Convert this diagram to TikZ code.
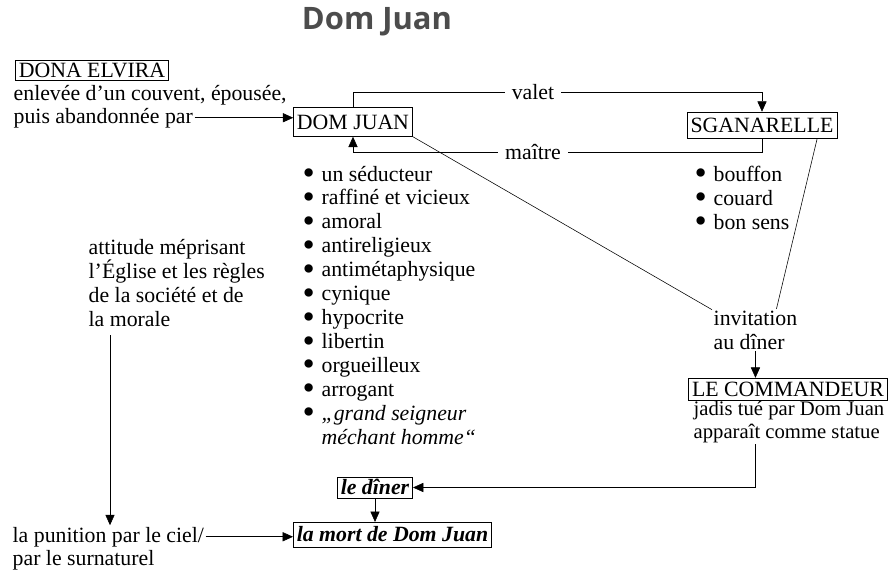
\documentclass[tikz,border=0pt]{standalone}
\usepackage{fontspec}
\setmainfont{Liberation Serif}
\newfontfamily\titlefont{Open Sans}
\usetikzlibrary{arrows.meta}
\tikzset{>={Triangle[length=2.6mm,width=2.3mm]}, line width=0.7pt}
\definecolor{titlegray}{gray}{0.3}
\newcommand{\bodyfont}{\fontsize{15.5}{17}\selectfont}
\newcommand{\bul}{\makebox[0.87em][l]{\raisebox{-0.17em}{\scalebox{1.6}{\textbullet}}}}

\begin{document}
\begin{tikzpicture}[x=0.025cm,y=-0.025cm,
    every node/.style={font=\bodyfont},
    box/.style={draw,inner xsep=2.5pt,inner ysep=1.5pt,text height=10.6pt,text depth=0.4pt},
    txt/.style={inner sep=1pt,align=left,anchor=base west},
    lbl/.style={fill=white,inner xsep=5pt,inner ysep=1pt}]
  \useasboundingbox (0,0) rectangle (888,572);

  % title
  \node[font=\titlefont\bfseries\fontsize{22}{26}\selectfont,text=titlegray]
    (title) at (377,22) {Dom Juan};

  % Dona Elvira
  \node[box] (elvira) at (92,70.5) {DONA ELVIRA};
  \node[txt] (elv1) at (12,100) {enlevée d’un couvent, épousée,};
  \node[txt] (elv2) at (12,123) {puis abandonnée par};

  % Dom Juan and Sganarelle
  \node[box,minimum height=20.5pt] (dj) at (353,122) {DOM JUAN};
  \node[box,minimum height=18.5pt] (sg) at (762,125) {SGANARELLE};
  \coordinate (vy) at (0,92);
  \coordinate (my) at (0,152);

  % traits (base = last line)
  \node[txt] (traits) at (301,444) {\bul un séducteur\\ \bul raffiné et vicieux\\
    \bul amoral\\ \bul antireligieux\\ \bul antimétaphysique\\ \bul cynique\\
    \bul hypocrite\\ \bul libertin\\ \bul orgueilleux\\ \bul arrogant\\
    \bul\textit{„grand seigneur}\\ \hspace*{0.87em}\textit{méchant homme“}};
  \node[txt] (sgtraits) at (693,229) {\bul bouffon\\ \bul couard\\ \bul bon sens};

  % left column
  \node[txt] (att) at (87,326) {attitude méprisant\\ l’Église et les règles\\
    de la société et de\\ la morale};
  \coordinate (attdown) at (110,335);
  \node[txt] (pun1) at (11,542) {la punition par le ciel/};
  \node[txt] (pun2) at (11,565) {par le surnaturel};

  % invitation, Commandeur
  \node[txt] (invit) at (712,349) {invitation\\ au dîner};
  \node[box,minimum height=15.5pt] (com) at (788,389) {LE COMMANDEUR};
  \node[txt,font=\fontsize{14.7}{16}\selectfont] (comtxt) at (692,438)
    {jadis tué par Dom Juan\\ apparaît comme statue};

  % end
  \node[box,font=\bodyfont\bfseries\itshape,minimum height=15pt] (diner) at (375,487.5) {le dîner};
  \node[box,font=\bodyfont\bfseries\itshape,minimum height=17.5pt,anchor=west]
    (mort) at (293,534.5) {la mort de Dom Juan};

  % connectors
  \draw[->] (elv2.east) -- (elv2.east -| dj.west);
  \draw[->] (dj.north) |- node[lbl,pos=0.72] {valet} (sg.north |- vy) -- (sg.north);
  \draw[->] (sg.south) |- node[lbl,pos=0.78] {maître} (dj.south |- my) -- (dj.south);
  \draw (dj.south east) -- (invit.155);
  \draw ([xshift=-0.5cm]sg.south east) -- (invit.45);
  \draw[->] (invit.south) -- (invit.south |- com.north);
  \draw[->] (comtxt.south -| invit.south) |- (diner.east);
  \draw[->] (diner.south) -- (diner.south |- mort.north);
  \draw[->] (attdown) -- (attdown |- pun1.north);
  \draw[->] (pun1.east) -- (pun1.east -| mort.west);
\end{tikzpicture}
\end{document}
